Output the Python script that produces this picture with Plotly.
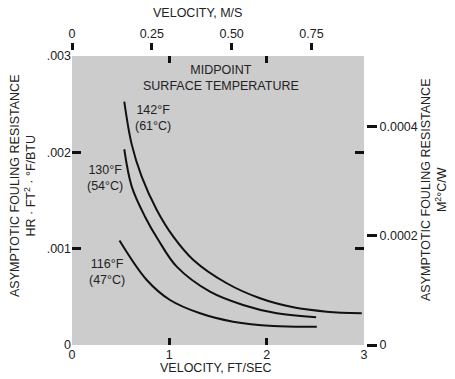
import plotly.graph_objects as go

# ---- data (velocity ft/s, resistance hr·ft²·°F/BTU) ----
v_142 = [0.537, 0.614, 0.716, 0.871, 1.041, 1.247, 1.590, 1.932, 2.274, 2.618, 2.977]
r_142 = [2.527e-3, 2.08e-3, 1.748e-3, 1.402e-3, 1.125e-3, 0.883e-3, 0.641e-3, 0.485e-3, 0.391e-3, 0.346e-3, 0.329e-3]

v_130 = [0.537, 0.614, 0.750, 0.887, 1.076, 1.418, 1.757, 2.104, 2.508]
r_130 = [2.032e-3, 1.644e-3, 1.332e-3, 1.090e-3, 0.813e-3, 0.553e-3, 0.415e-3, 0.329e-3, 0.288e-3]

v_116 = [0.488, 0.768, 1.007, 1.316, 1.655, 2.066, 2.515]
r_116 = [1.085e-3, 0.675e-3, 0.467e-3, 0.329e-3, 0.242e-3, 0.197e-3, 0.190e-3]

curve_labels = ["142°F<br>(61°C)", "130°F<br>(54°C)", "116°F<br>(47°C)"]
label_v = [0.83, 0.339, 0.357]
label_r = [2.357e-3, 1.734e-3, 0.761e-3]

ft_ticks = [0, 1, 2, 3]
ft_ticktext = ["0", "1", "2", "3"]
ms_ticks = [0, 0.25, 0.5, 0.75]
ms_ticktext = ["0", "0.25", "0.50", "0.75"]
r_ticks = [0, 0.001, 0.002, 0.003]
r_ticktext = ["0", ".001", ".002", ".003"]
si_ticks = [0, 0.0002, 0.0004]
si_ticktext = ["0", "0.0002", "0.0004"]

FT_TO_M = 0.3048
IMP_TO_SI = 0.17611

# ---- geometry ----
W, H = 455, 379
L, T, B = 72, 50, 34
R = W - 366
PW = W - L - R  # 294
PH = H - T - B  # 295
X_DOM = (364 - 72) / PW
Y_DOM = (345 - 56) / PH


def px(x):
    return (x - L) / PW


def py(y):
    return (H - B - y) / PH


FONT = dict(family="Liberation Sans, Arial, sans-serif", size=12.5, color="#222222")
LINE = dict(color="#111111", width=2)

fig = go.Figure()
for vv, rr in [(v_142, r_142), (v_130, r_130), (v_116, r_116)]:
    fig.add_trace(go.Scatter(x=vv, y=rr, mode="lines", line=dict(shape="spline", **LINE),
                             showlegend=False, hoverinfo="skip"))

# dummy traces to activate overlay axes
for xa, ya in [("x2", "y"), ("x", "y2"), ("x3", "y"), ("x", "y3")]:
    fig.add_trace(go.Scatter(x=[], y=[], xaxis=xa, yaxis=ya, showlegend=False, hoverinfo="skip"))

fig.update_layout(
    width=W, height=H,
    margin=dict(l=L, r=R, t=T, b=B),
    paper_bgcolor="white",
    plot_bgcolor="#cccccd",
    font=FONT,
    xaxis=dict(domain=[0, X_DOM], range=[0, 3], tickmode="array", tickvals=ft_ticks,
               ticktext=ft_ticktext, ticks="", showgrid=False, zeroline=False, showline=False,
               tickfont=FONT, anchor="y"),
    yaxis=dict(domain=[0, Y_DOM], range=[0, 0.003], tickmode="array", tickvals=r_ticks,
               ticktext=r_ticktext, ticks="", showgrid=False, zeroline=False, showline=False,
               tickfont=FONT, anchor="x"),
    xaxis2=dict(overlaying="x", side="top", anchor="free", position=1,
                range=[0, 3 * FT_TO_M], tickmode="array", tickvals=ms_ticks, ticktext=ms_ticktext,
                ticks="outside", ticklen=7, tickwidth=2.5, tickcolor="#111111",
                showgrid=False, zeroline=False, showline=False, tickfont=FONT),
    yaxis2=dict(overlaying="y", side="right", anchor="free", position=1,
                range=[0, 0.003 * IMP_TO_SI], tickmode="array", tickvals=si_ticks, ticktext=si_ticktext,
                ticks="outside", ticklen=10, tickwidth=2.5, tickcolor="#111111",
                showgrid=False, zeroline=False, showline=False, tickfont=FONT),
    xaxis3=dict(overlaying="x", anchor="y", range=[0, 3], tickmode="array", tickvals=[1, 2],
                ticks="inside", ticklen=7, tickwidth=2.5, tickcolor="#111111", mirror="ticks",
                showticklabels=False, showgrid=False, zeroline=False, showline=False),
    yaxis3=dict(overlaying="y", anchor="x", side="left", range=[0, 0.003], tickmode="array",
                tickvals=[0.001, 0.002], ticks="inside", ticklen=9, tickwidth=2.5,
                tickcolor="#111111", mirror="ticks", showticklabels=False, showgrid=False,
                zeroline=False, showline=False),
)

ann = []
for t, xv, yv in zip(curve_labels, label_v, label_r):
    ann.append(dict(x=xv, y=yv, xref="x", yref="y", text=t, showarrow=False, font=FONT,
                    align="center", xanchor="center", yanchor="middle"))
ann.append(dict(x=1.531, y=2.77e-3, xref="x", yref="y", text="MIDPOINT<br>SURFACE TEMPERATURE",
                showarrow=False, font=FONT, align="center", xanchor="center", yanchor="middle"))
# axis titles
ann.append(dict(x=px(197), y=py(13), xref="paper", yref="paper", text="VELOCITY, M/S",
                showarrow=False, font=FONT, xanchor="center", yanchor="middle"))
ann.append(dict(x=px(216), y=py(368), xref="paper", yref="paper", text="VELOCITY, FT/SEC",
                showarrow=False, font=FONT, xanchor="center", yanchor="middle"))
ann.append(dict(x=px(23), y=py(186), xref="paper", yref="paper",
                text="ASYMPTOTIC FOULING RESISTANCE<br>HR · FT<sup>2</sup> · °F/BTU",
                textangle=-90, showarrow=False, font=FONT, align="center",
                xanchor="center", yanchor="middle"))
ann.append(dict(x=px(434), y=py(190), xref="paper", yref="paper",
                text="ASYMPTOTIC FOULING RESISTANCE<br>M<sup>2</sup>°C/W",
                textangle=-90, showarrow=False, font=FONT, align="center",
                xanchor="center", yanchor="middle"))
fig.update_layout(annotations=ann)

fig.write_html("out.html")
